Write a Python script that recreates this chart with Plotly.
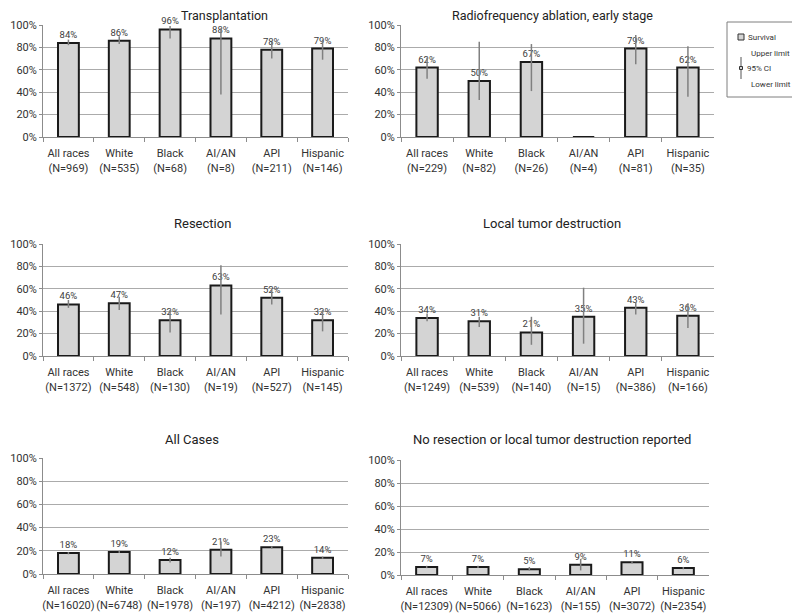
import plotly.graph_objects as go

W, H = 800, 614
OFF = 8  # the page body adds an 8px margin; positions below are measured on the screen

groups = ["All races", "White", "Black", "AI/AN", "API", "Hispanic"]

# Transplantation
transplant_n = [969, 535, 68, 8, 211, 146]
transplant_surv = [84, 86, 96, 88, 78, 79]
transplant_lo = [82, 83, 88, 38, 70, 69]
transplant_hi = [87, 90, 99, 97, 85, 87]

# Radiofrequency ablation, early stage
rfa_n = [229, 82, 26, 4, 81, 35]
rfa_surv = [62, 50, 67, 0, 79, 62]
rfa_lo = [52, 33, 41, 0, 65, 36]
rfa_hi = [71, 85, 83, 0, 91, 81]

# Resection
resection_n = [1372, 548, 130, 19, 527, 145]
resection_surv = [46, 47, 32, 63, 52, 32]
resection_lo = [43, 41, 21, 37, 46, 22]
resection_hi = [50, 53, 41, 81, 59, 41]

# Local tumor destruction
ltd_n = [1249, 539, 140, 15, 386, 166]
ltd_surv = [34, 31, 21, 35, 43, 36]
ltd_lo = [31, 26, 10, 11, 37, 25]
ltd_hi = [38, 35, 35, 61, 48, 47]

# All Cases
all_n = [16020, 6748, 1978, 197, 4212, 2838]
all_surv = [18, 19, 12, 21, 23, 14]
all_lo = [17, 18, 10, 15, 22, 13]
all_hi = [19, 20, 14, 28, 24, 15]

# No resection or local tumor destruction reported
none_n = [12309, 5066, 1623, 155, 3072, 2354]
none_surv = [7, 7, 5, 9, 11, 6]
none_lo = [6, 6, 4, 4, 10, 5]
none_hi = [8, 8, 7, 14, 12, 7]

FONT = "Roboto"


def px(x, y):
    # screen pixel -> paper coords
    return (x - OFF) / W, 1 - (y - OFF) / H


# (title, n, surv, lo, hi, plot box on screen [x0, x1, ytop, ybottom], title centre, title size)
panels = [
    ("Transplantation", transplant_n, transplant_surv, transplant_lo, transplant_hi,
     (43, 348, 25, 137), (224, 15), 12.5),
    ("Radiofrequency ablation, early stage", rfa_n, rfa_surv, rfa_lo, rfa_hi,
     (401, 714, 25, 137), (552, 15), 12.5),
    ("Resection", resection_n, resection_surv, resection_lo, resection_hi,
     (43, 348, 244, 356), (202, 224), 13),
    ("Local tumor destruction", ltd_n, ltd_surv, ltd_lo, ltd_hi,
     (401, 714, 244, 356), (552, 224), 13),
    ("All Cases", all_n, all_surv, all_lo, all_hi,
     (43, 348, 458, 574), (192, 439), 13),
    ("No resection or local tumor destruction reported", none_n, none_surv, none_lo, none_hi,
     (401, 709, 460, 575), (552, 439), 13),
]

fig = go.Figure()
layout = {}
annotations = []

for i, (title, n, surv, lo, hi, box, tpos, tsize) in enumerate(panels):
    k = "" if i == 0 else str(i + 1)
    x0, x1, yt, yb = box
    ax0, ay0 = px(x0, yb)
    ax1, ay1 = px(x1, yt)
    labels = [f"{g}<br>(N={m})" for g, m in zip(groups, n)]
    fig.add_trace(go.Bar(
        x=labels, y=surv,
        xaxis="x" + k, yaxis="y" + k,
        marker=dict(color="#d4d4d4", line=dict(color="#1a1a1a", width=2)),
        text=[f"{v}%" if v > 0 else "" for v in surv],
        textposition="outside", cliponaxis=False,
        textfont=dict(family=FONT, size=9.5, color="#404040"),
        error_y=dict(type="data", symmetric=False,
                     array=[h - v for h, v in zip(hi, surv)],
                     arrayminus=[v - l for v, l in zip(surv, lo)],
                     color="#808080", thickness=1.5, width=0),
        showlegend=False, hoverinfo="skip",
    ))
    layout["xaxis" + k] = dict(
        domain=[ax0, ax1], anchor="y" + k,
        showline=True, linecolor="#8c8c8c", linewidth=1,
        ticks="outside", tickson="boundaries", ticklen=4, tickcolor="#8c8c8c",
        tickangle=0, automargin=False, ticklabelstandoff=6,
        tickfont=dict(family=FONT, size=11, color="#333"),
        showgrid=False, fixedrange=True,
    )
    layout["yaxis" + k] = dict(
        domain=[ay0, ay1], anchor="x" + k,
        range=[0, 100], dtick=20, ticksuffix="%",
        showline=True, linecolor="#8c8c8c", linewidth=1,
        ticks="outside", ticklen=3, tickcolor="#8c8c8c", automargin=False,
        showgrid=True, gridcolor="#ababab", gridwidth=1,
        tickfont=dict(family=FONT, size=11, color="#333"),
        zeroline=False, fixedrange=True,
    )
    tx, ty = px(*tpos)
    annotations.append(dict(
        text=title, x=tx, y=ty,
        xref="paper", yref="paper", xanchor="center", yanchor="middle",
        showarrow=False, font=dict(family=FONT, size=tsize, color="#222"),
    ))

# legend box drawn by hand
shapes = []
bx0, by0 = px(727, 22)
bx1, by1 = px(797, 97)
shapes.append(dict(type="rect", xref="paper", yref="paper", x0=bx0, y0=by1, x1=bx1, y1=by0,
                   line=dict(color="#7f7f7f", width=1), fillcolor="white"))
sx0, sy0 = px(738, 34)
sx1, sy1 = px(744, 40)
shapes.append(dict(type="rect", xref="paper", yref="paper", x0=sx0, y0=sy1, x1=sx1, y1=sy0,
                   line=dict(color="#333", width=1), fillcolor="#d4d4d4"))
lx, ly0 = px(741, 57)
_, ly1 = px(741, 79)
shapes.append(dict(type="line", xref="paper", yref="paper", x0=lx, y0=ly0, x1=lx, y1=ly1,
                   line=dict(color="#555", width=1)))
qx0, qy0 = px(739.5, 66.5)
qx1, qy1 = px(742.5, 69.5)
shapes.append(dict(type="rect", xref="paper", yref="paper", x0=qx0, y0=qy1, x1=qx1, y1=qy0,
                   line=dict(color="#333", width=1), fillcolor="#d4d4d4"))

for txt, x, y in [("Survival", 746, 37), ("Upper limit", 749, 53),
                  ("95% CI", 745, 68), ("Lower limit", 749, 84)]:
    lx_, ly_ = px(x, y)
    annotations.append(dict(text=txt, x=lx_, y=ly_, xref="paper", yref="paper",
                            xanchor="left", yanchor="middle", showarrow=False,
                            font=dict(family=FONT, size=8, color="#333")))

fig.update_layout(
    width=W, height=H,
    margin=dict(l=0, r=0, t=0, b=0, autoexpand=False),
    paper_bgcolor="white", plot_bgcolor="white",
    bargap=0.59,
    annotations=annotations, shapes=shapes,
    font=dict(family=FONT),
    **layout,
)

fig.write_html("out.html")
